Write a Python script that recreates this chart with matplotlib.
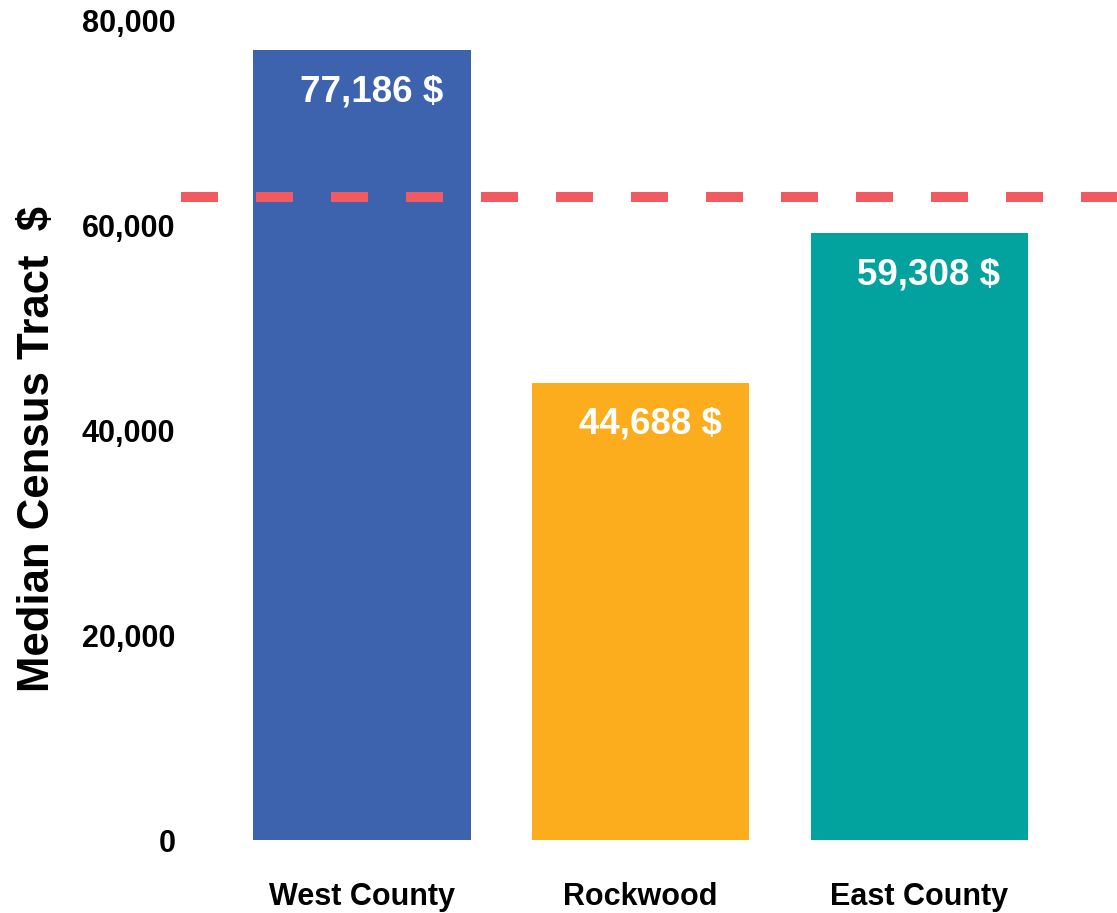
import matplotlib
matplotlib.use('Agg')
import matplotlib.pyplot as plt

plt.rcParams['font.family'] = ['Liberation Sans', 'DejaVu Sans']

# data
areas = ['West County', 'Rockwood', 'East County']
median_income = [77186, 44688, 59308]
reference_line = 62800
y_ticks = [0, 20000, 40000, 60000, 80000]

COLORS = ['#3D63AE', '#FBAD1D', '#02A29F']
C_REF = '#F25A62'

fig = plt.figure(figsize=(11.17, 9.13), dpi=100)
ax = fig.add_axes([181 / 1117, 73 / 913, 936 / 1117, 819 / 913])

x = list(range(len(areas)))
ax.bar(x, median_income, width=0.78, color=COLORS, zorder=2)

# dashed reference line across the whole plot
ax.axhline(reference_line, color=C_REF, linewidth=7.2, linestyle=(0, (3.7, 3.8)),
           dash_capstyle='butt', zorder=3)

for xi, v in zip(x, median_income):
    ax.text(xi + 0.29, v - 4100, f'{v:,} $', ha='right', va='center',
            fontsize=26.5, fontweight='bold', color='white', zorder=4)

ax.set_xlim(-0.65, 2.71)
ax.set_ylim(0, 80000)
ax.set_xticks(x)
ax.set_xticklabels(areas, fontsize=22, fontweight='bold')
ax.set_yticks(y_ticks)
ax.set_yticklabels([f'{t:,}' for t in y_ticks], fontsize=22, fontweight='bold')
ax.tick_params(axis='both', length=0)
ax.tick_params(axis='x', pad=30)
ax.tick_params(axis='y', pad=4)

for s in ax.spines.values():
    s.set_visible(False)

ax.set_ylabel('Median Census Tract  $', fontsize=31.5, fontweight='bold')
ax.yaxis.set_label_coords(-0.131, 0.478)

fig.savefig('out.png', dpi=100)
